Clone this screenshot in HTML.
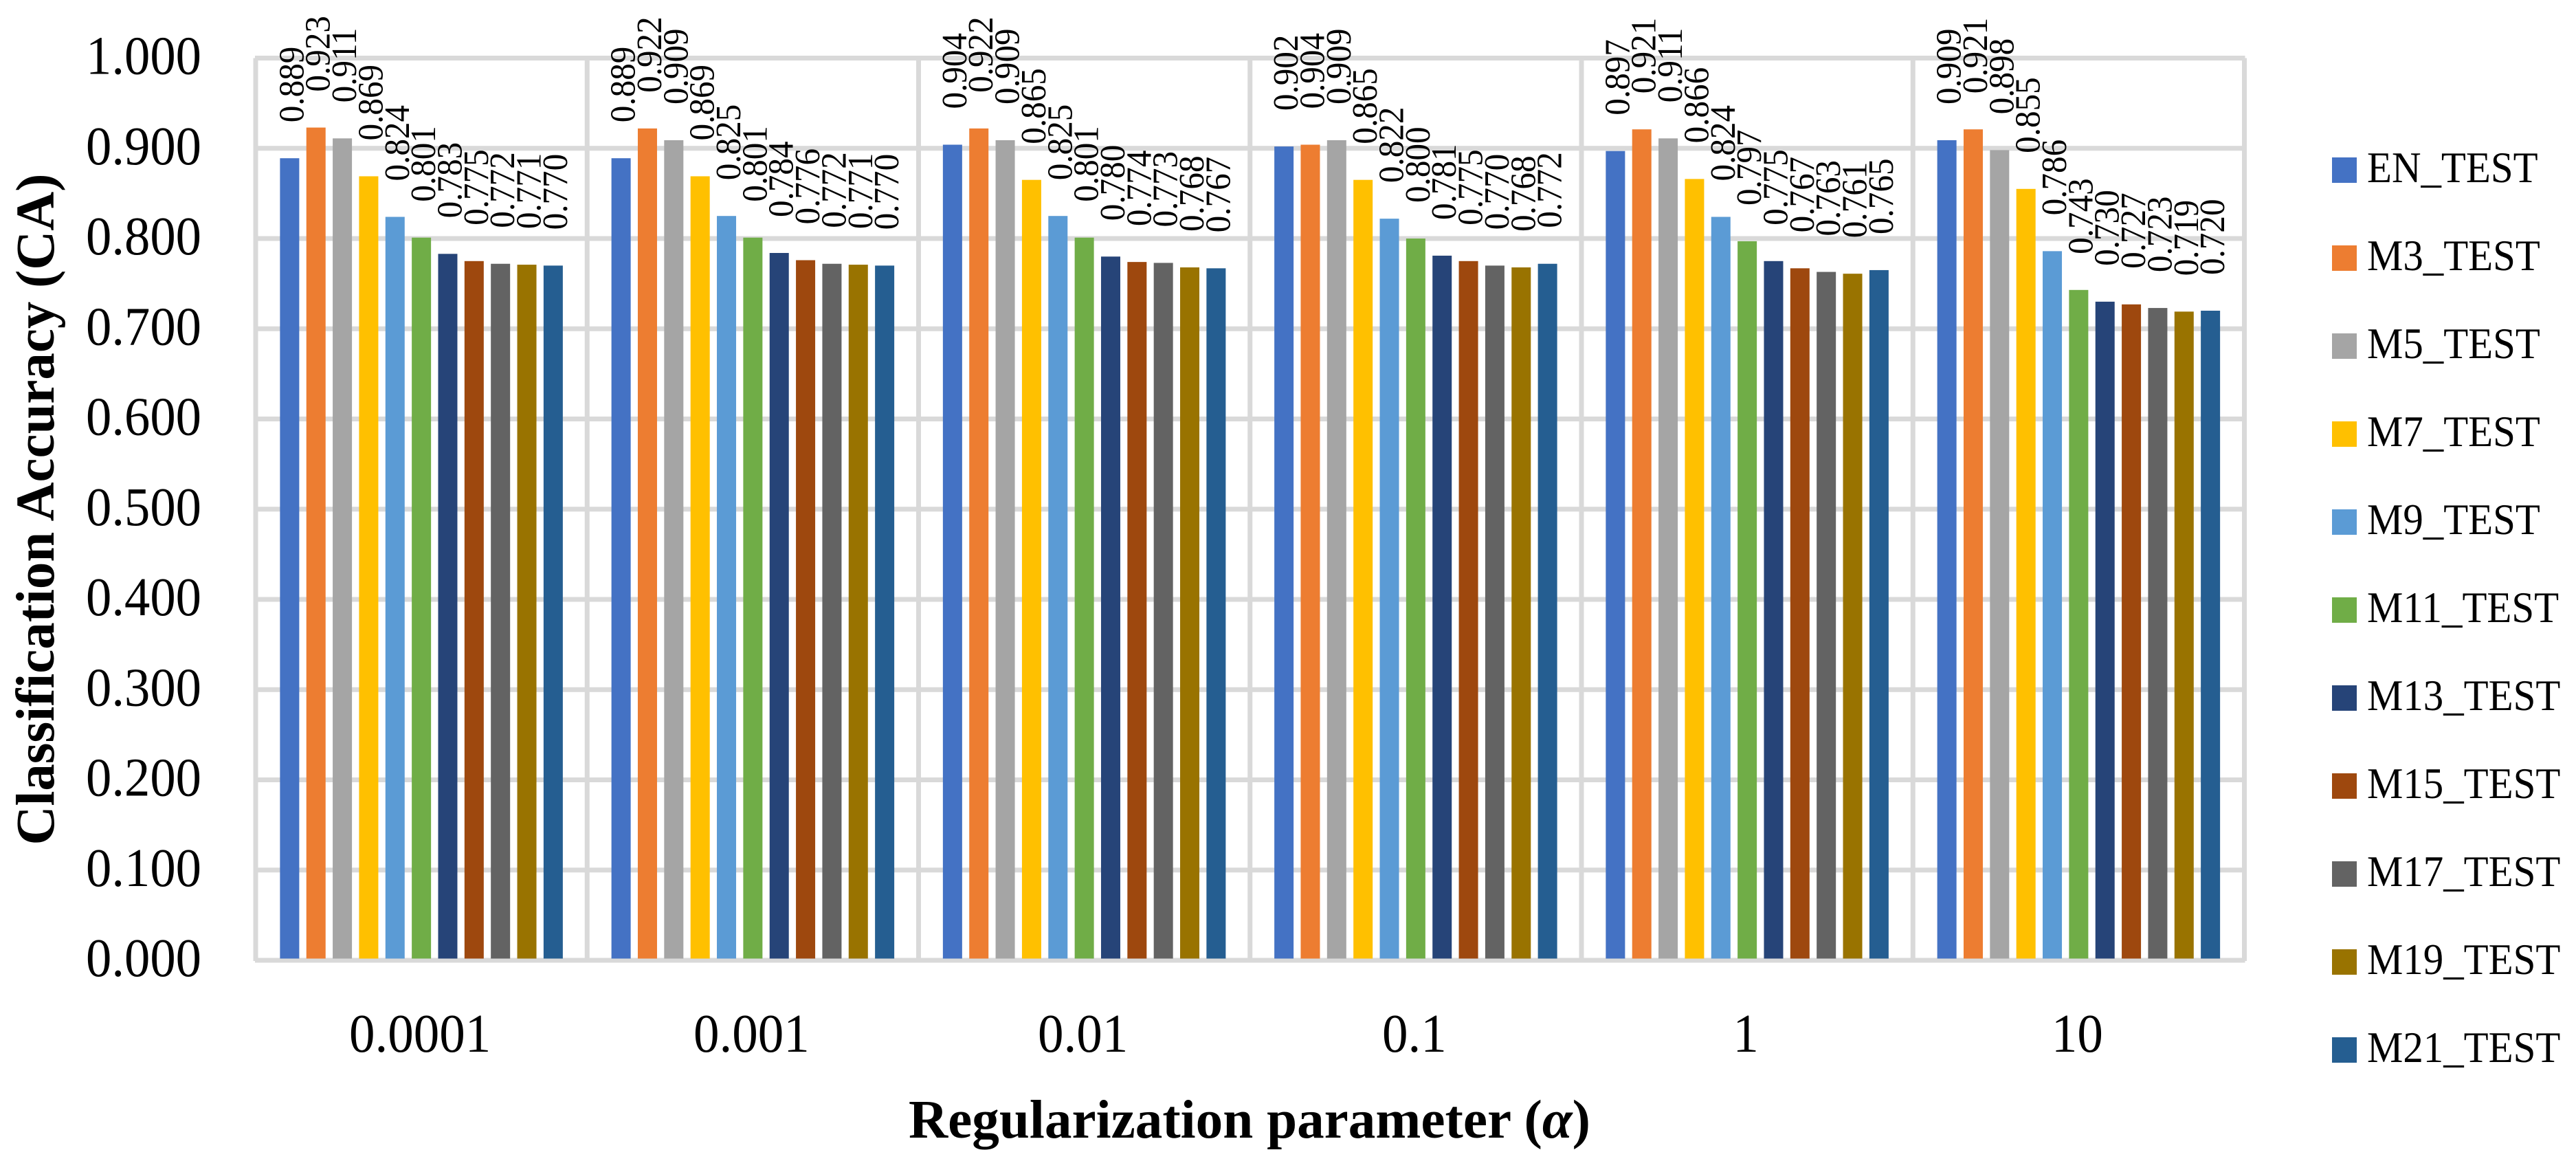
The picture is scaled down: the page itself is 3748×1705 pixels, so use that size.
<!DOCTYPE html>
<html lang="en">
<head>
<meta charset="utf-8">
<title>Classification Accuracy chart</title>
<style>
html,body{margin:0;padding:0;background:#fff;}
body{width:3748px;height:1705px;overflow:hidden;}
svg{display:block;}
text{font-family:"Liberation Serif","Times New Roman",serif;fill:#000;}
</style>
</head>
<body>
<svg id="chart" xmlns="http://www.w3.org/2000/svg" width="3748" height="1705" viewBox="0 0 3748 1705">
  <rect x="0" y="0" width="3748" height="1705" fill="#ffffff"/>
  <g id="grid"></g>
  <g id="bars"></g>
  <g id="labels"></g>
  <g id="yticks"></g>
  <g id="xticks"></g>
  <g id="legend"></g>
  <text transform="translate(78,741) rotate(-90)" text-anchor="middle" font-size="79" font-weight="bold" textLength="977" lengthAdjust="spacingAndGlyphs">Classification Accuracy (CA)</text>
  <text x="1818" y="1655" text-anchor="middle" font-size="79" font-weight="bold" textLength="992" lengthAdjust="spacingAndGlyphs">Regularization parameter (<tspan font-style="italic">α</tspan>)</text>
</svg>
<script>
const categories = ["0.0001", "0.001", "0.01", "0.1", "1", "10"];
const seriesNames = ["EN_TEST", "M3_TEST", "M5_TEST", "M7_TEST", "M9_TEST", "M11_TEST", "M13_TEST", "M15_TEST", "M17_TEST", "M19_TEST", "M21_TEST"];
const seriesColors = ["#4472C4", "#ED7D31", "#A5A5A5", "#FFC000", "#5B9BD5", "#70AD47", "#264478", "#9E480E", "#636363", "#997300", "#255E91"];
const yTickLabels = ["0.000", "0.100", "0.200", "0.300", "0.400", "0.500", "0.600", "0.700", "0.800", "0.900", "1.000"];

const enTest  = [0.889, 0.889, 0.904, 0.902, 0.897, 0.909];
const m3Test  = [0.923, 0.922, 0.922, 0.904, 0.921, 0.921];
const m5Test  = [0.911, 0.909, 0.909, 0.909, 0.911, 0.898];
const m7Test  = [0.869, 0.869, 0.865, 0.865, 0.866, 0.855];
const m9Test  = [0.824, 0.825, 0.825, 0.822, 0.824, 0.786];
const m11Test = [0.801, 0.801, 0.801, 0.800, 0.797, 0.743];
const m13Test = [0.783, 0.784, 0.780, 0.781, 0.775, 0.730];
const m15Test = [0.775, 0.776, 0.774, 0.775, 0.767, 0.727];
const m17Test = [0.772, 0.772, 0.773, 0.770, 0.763, 0.723];
const m19Test = [0.771, 0.771, 0.768, 0.768, 0.761, 0.719];
const m21Test = [0.770, 0.770, 0.767, 0.772, 0.765, 0.720];
const allSeries = [enTest, m3Test, m5Test, m7Test, m9Test, m11Test, m13Test, m15Test, m17Test, m19Test, m21Test];

const SVG_NS = "http://www.w3.org/2000/svg";
const plotLeft = 372, plotRight = 3265.5, plotTop = 84.5, plotBottom = 1397;
const yMin = 0, yMax = 1;
const groupWidth = (plotRight - plotLeft) / categories.length;
const barPitch = 38.35, barWidth = 28;
const GRID = "#D9D9D9";

function yScale(v) {
  return plotBottom - (v - yMin) / (yMax - yMin) * (plotBottom - plotTop);
}
function groupLeft(i) {
  return plotLeft + i * groupWidth;
}
function barX(groupIndex, seriesIndex) {
  const span = barPitch * (allSeries.length - 1) + barWidth;
  return groupLeft(groupIndex) + (groupWidth - span) / 2 + seriesIndex * barPitch;
}
function svgEl(tag) {
  return document.createElementNS(SVG_NS, tag);
}
function line(parent, x1, y1, x2, y2, w) {
  const l = svgEl("line");
  l.setAttribute("x1", x1);
  l.setAttribute("y1", y1);
  l.setAttribute("x2", x2);
  l.setAttribute("y2", y2);
  l.setAttribute("stroke", GRID);
  l.setAttribute("stroke-width", w);
  parent.appendChild(l);
  return l;
}

const gridG = document.getElementById("grid");
yTickLabels.forEach(function (t, i) {
  const y = yScale(parseFloat(t));
  const l = line(gridG, plotLeft - 1, y, plotRight + 1, y, 7);
  
  
});
for (let i = 0; i <= categories.length; i++) {
  const x = groupLeft(i);
  const l = line(gridG, x, plotTop, x, plotBottom + 1, 7);
  
  
}

const barsG = document.getElementById("bars");
const labelsG = document.getElementById("labels");
allSeries.forEach(function (values, s) {
  values.forEach(function (v, g) {
    const x = barX(g, s);
    const top = yScale(v);
    const r = svgEl("rect");
    r.setAttribute("x", x);
    r.setAttribute("y", top);
    r.setAttribute("width", barWidth);
    r.setAttribute("height", plotBottom - 2.5 - top);
    r.setAttribute("fill", seriesColors[s]);
    
    
    barsG.appendChild(r);

    const t = svgEl("text");
    t.setAttribute("transform", "translate(" + (x + barWidth / 2 + 20) + "," + (top - 52) + ") rotate(-90) scale(0.945,1)");
    t.setAttribute("font-size", "52");
    t.textContent = v.toFixed(3);
    
    
    labelsG.appendChild(t);
  });
});

const yG = document.getElementById("yticks");
yTickLabels.forEach(function (label) {
  const t = svgEl("text");
  t.setAttribute("transform", "translate(293," + (yScale(parseFloat(label)) + 23) + ") scale(0.945,1)");
  t.setAttribute("font-size", "79");
  t.setAttribute("text-anchor", "end");
  t.textContent = label;
  
  
  yG.appendChild(t);
});

const xG = document.getElementById("xticks");
categories.forEach(function (label, i) {
  const t = svgEl("text");
  t.setAttribute("transform", "translate(" + (groupLeft(i) + groupWidth / 2 - 2) + ",1530) scale(0.95,1)");
  t.setAttribute("font-size", "79");
  t.setAttribute("text-anchor", "middle");
  t.textContent = label;
  
  
  xG.appendChild(t);
});

const legendG = document.getElementById("legend");
seriesNames.forEach(function (name, i) {
  const y = 229 + i * 128;
  const g = svgEl("g");
  
  
  const r = svgEl("rect");
  r.setAttribute("x", 3393);
  r.setAttribute("y", y);
  r.setAttribute("width", 36);
  r.setAttribute("height", 37);
  r.setAttribute("fill", seriesColors[i]);
  
  
  g.appendChild(r);
  const t = svgEl("text");
  t.setAttribute("transform", "translate(3444," + (y + 36) + ") scale(0.92,1)");
  t.setAttribute("font-size", "64");
  t.textContent = name;
  
  
  g.appendChild(t);
  legendG.appendChild(g);
});
</script>
</body>
</html>
